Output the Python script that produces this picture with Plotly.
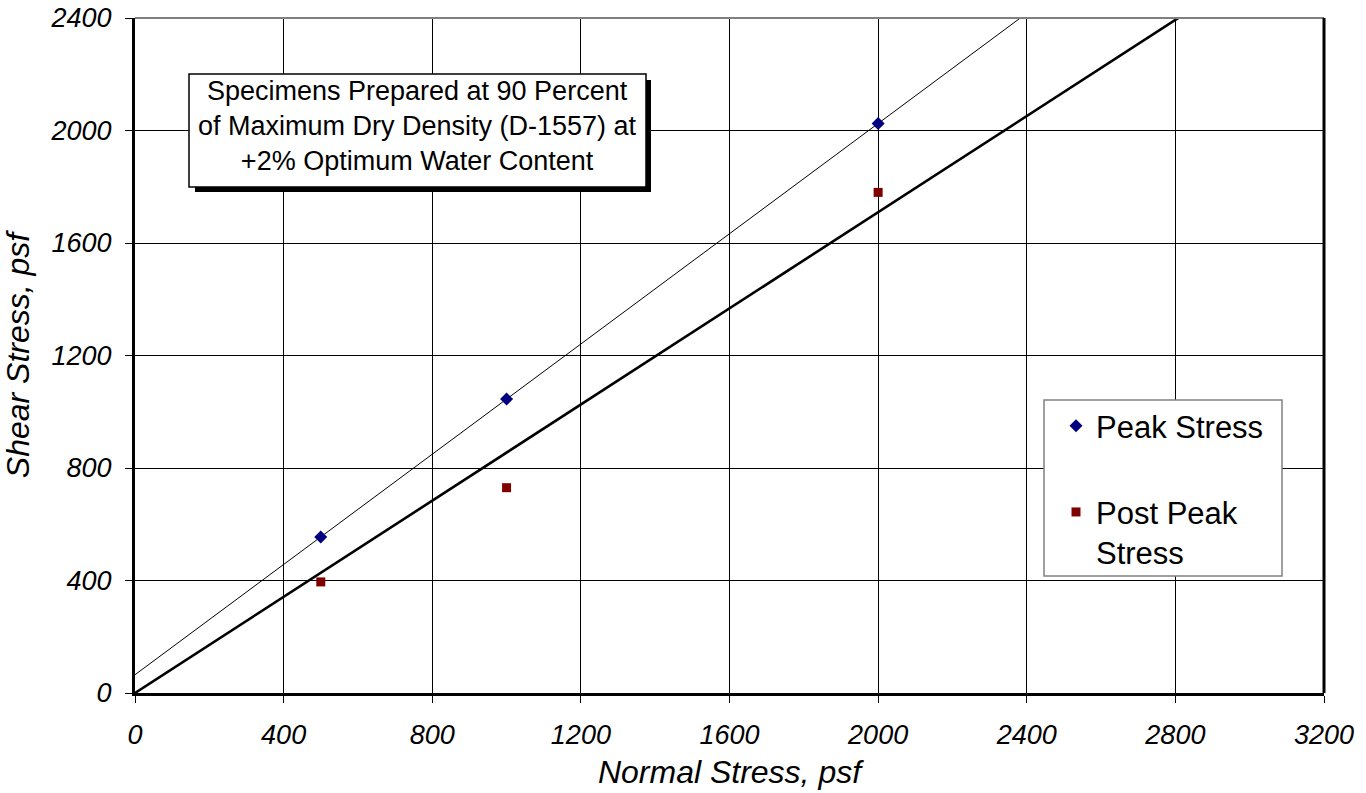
import numpy as np
import plotly.graph_objects as go

# Direct shear test results
normal_stress = [500, 1000, 2000]          # psf
peak_stress = [555, 1045, 2025]            # psf
post_peak_stress = [395, 730, 1780]        # psf

x_ticks = [0, 400, 800, 1200, 1600, 2000, 2400, 2800, 3200]
y_ticks = [0, 400, 800, 1200, 1600, 2000, 2400]

note_text = ("Specimens Prepared at 90 Percent<br>"
             "of Maximum Dry Density (D-1557) at<br>"
             "+2% Optimum Water Content")

# Failure envelopes: least-squares line for peak, origin line for post-peak
slope_pk, icpt_pk = np.polyfit(normal_stress, peak_stress, 1)
xs = np.array(normal_stress, dtype=float)
slope_pp = float((xs * np.array(post_peak_stress)).sum() / (xs * xs).sum())
env_x = np.array([x_ticks[0], x_ticks[-1]], dtype=float)

FONT = "Arial, 'Liberation Sans', sans-serif"

# plot-area geometry in pixels
W, H = 1366, 793
L, R, T, B = 135, 1324, 18, 693


def px(xp):
    return (xp - L) / (R - L)


def py(yp):
    return (B - yp) / (B - T)


fig = go.Figure()

fig.add_trace(go.Scatter(
    x=env_x, y=icpt_pk + slope_pk * env_x, mode="lines",
    line=dict(color="black", width=1), showlegend=False, hoverinfo="skip"))
fig.add_trace(go.Scatter(
    x=env_x, y=slope_pp * env_x, mode="lines",
    line=dict(color="black", width=2.6), showlegend=False, hoverinfo="skip"))

fig.add_trace(go.Scatter(
    x=normal_stress, y=peak_stress, mode="markers", name="Peak Stress",
    legendgroup="a",
    marker=dict(symbol="diamond", size=10, color="#000080",
                line=dict(width=0))))
fig.add_trace(go.Scatter(
    x=normal_stress, y=post_peak_stress, mode="markers",
    name="Post Peak<br>Stress", legendgroup="b",
    marker=dict(symbol="square", size=9, color="#800000",
                line=dict(width=0))))

axis_common = dict(
    showgrid=True, gridcolor="black", gridwidth=1,
    zeroline=False, showline=True, linecolor="black", linewidth=3,
    ticks="outside", ticklen=7, tickcolor="black", tickwidth=1,
    tickfont=dict(family=FONT, size=27, color="black", style="italic"),
)

fig.update_xaxes(
    range=[x_ticks[0], x_ticks[-1]], tickvals=x_ticks,
    ticklabelstandoff=9,
    title=dict(text="Normal Stress, psf", standoff=12,
               font=dict(family=FONT, size=32, color="black", style="italic")),
    automargin=False, **axis_common)
fig.update_yaxes(
    range=[y_ticks[0], y_ticks[-1]], tickvals=y_ticks,
    ticklabelstandoff=8,
    title=dict(text="Shear Stress, psf", standoff=13,
               font=dict(family=FONT, size=32, color="black", style="italic")),
    automargin=False, **axis_common)

shapes = [
    # top and right frame
    dict(type="line", xref="paper", yref="paper", x0=0, x1=1, y0=1, y1=1,
         line=dict(color="#808080", width=2), layer="above"),
    dict(type="line", xref="paper", yref="paper", x0=1, x1=1, y0=0, y1=1,
         line=dict(color="black", width=3), layer="above"),
    # note box with drop shadow
    dict(type="rect", xref="paper", yref="paper",
         x0=px(195), x1=px(651), y0=py(192), y1=py(80),
         fillcolor="black", line=dict(width=0), layer="above"),
    dict(type="rect", xref="paper", yref="paper",
         x0=px(189), x1=px(646), y0=py(187), y1=py(74),
         fillcolor="white", line=dict(color="black", width=1.5), layer="above"),
    # legend frame
    dict(type="rect", xref="paper", yref="paper",
         x0=px(1044), x1=px(1282), y0=py(576), y1=py(400),
         fillcolor="white", line=dict(color="#808080", width=1.5),
         layer="above"),
]

fig.update_layout(
    width=W, height=H,
    margin=dict(l=L, r=W - R, t=T, b=H - B, pad=0),
    paper_bgcolor="white", plot_bgcolor="white",
    font=dict(family=FONT, color="black"),
    shapes=shapes,
    showlegend=True,
    legend=dict(
        x=px(1056), y=py(399), xanchor="left", yanchor="top",
        bgcolor="rgba(0,0,0,0)", borderwidth=0,
        font=dict(family=FONT, size=31, color="black"),
        tracegroupgap=43, valign="top", traceorder="grouped",
    ),
    annotations=[dict(
        text=note_text, xref="paper", yref="paper",
        x=px(417.5), y=py(126), xanchor="center", yanchor="middle",
        showarrow=False, align="center",
        font=dict(family=FONT, size=27, color="black"),
    )],
)

fig.write_html("out.html")
